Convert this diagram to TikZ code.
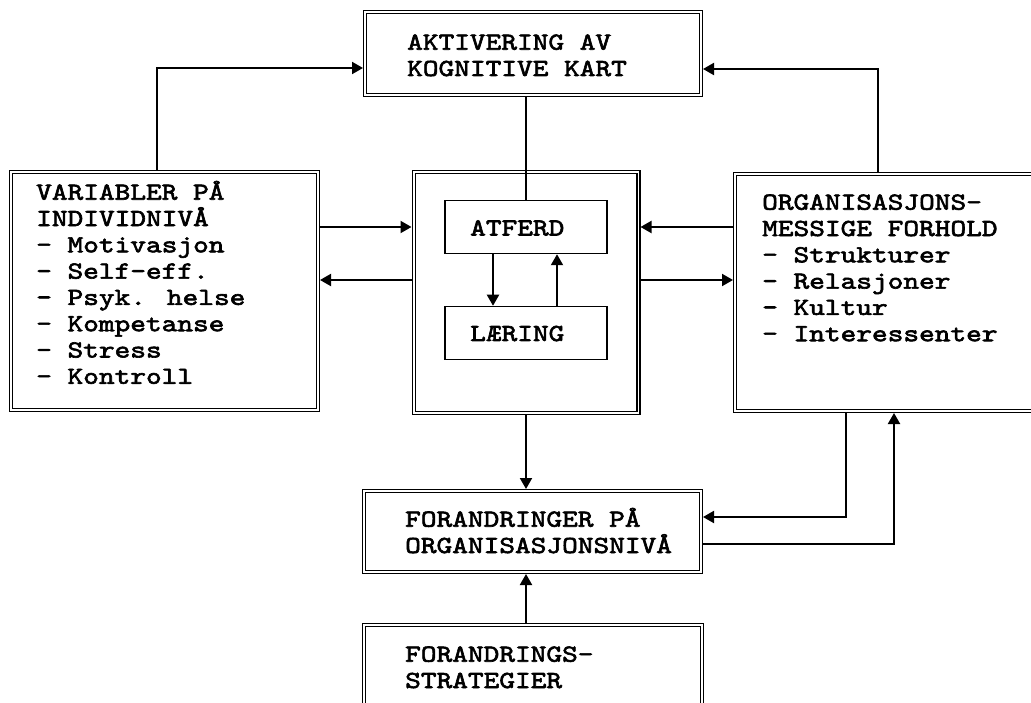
\documentclass[tikz,border=0pt]{standalone}
\usepackage{fontspec}
\newfontfamily\courfont{lmmono10-regular}[Extension=.otf, FakeStretch=1.22, FakeBold=2.5]
\usetikzlibrary{arrows.meta,calc}

\newcommand{\topstrut}{\rule{0pt}{20pt}}

\begin{document}
\begin{tikzpicture}[x=1pt, y=-1pt,
  dbox/.style={draw, double, line width=1.4pt, double distance=1.6pt,
               inner sep=0pt, outer sep=2.2pt},
  sbox/.style={draw, line width=1.5pt, inner sep=0pt, outer sep=0.75pt,
               minimum width=162pt, minimum height=53pt},
  txt/.style={font=\courfont\fontsize{24.5}{26.3}\selectfont, align=left,
              inner sep=0pt},
  ln/.style={line width=2pt},
  arr/.style={ln, -{Triangle[length=11pt, width=12pt]}}]

\useasboundingbox (0,0) rectangle (1031,703);
\clip (0,0) rectangle (1031,703);

% frames
\node[dbox, minimum width=335.6pt, minimum height=82.6pt]  (akt)     at (533,53.5)   {};
\node[dbox, minimum width=306.6pt, minimum height=237.6pt] (left)    at (164.5,291)  {};
\node[dbox, minimum width=224.6pt, minimum height=240.6pt] (mid)     at (526,292.5)  {};
\node[dbox, minimum width=322.6pt, minimum height=236.6pt] (right)   at (896.5,292.5){};
\node[dbox, minimum width=336.6pt, minimum height=80.6pt]  (forand)  at (532.5,531.5){};
\node[dbox, minimum width=337.6pt, minimum height=92.6pt]  (strat)   at (533,671.5)  {};
\node[sbox] (atferd)  at (526,227) {};
\node[sbox] (laering) at (526,333) {};

% texts
\node[txt, anchor=north west] (aktT) at (407,29.5)
  {\topstrut AKTIVERING AV\\KOGNITIVE KART};
\node[txt, anchor=north west] (leftT) at (36,179.5)
  {\topstrut VARIABLER PÅ\\INDIVIDNIVÅ\\- Motivasjon\\- Self-eff.\\- Psyk. helse\\- Kompetanse\\- Stress\\- Kontroll};
\node[txt, anchor=north west] (rightT) at (762,189.5)
  {\topstrut ORGANISASJONS-\\MESSIGE FORHOLD\\- Strukturer\\- Relasjoner\\- Kultur\\- Interessenter};
\node[txt, anchor=base west] (atferdT)  at (470,235.5) {ATFERD};
\node[txt, anchor=base west] (laeringT) at (470,341) {LÆRING};
\node[txt, anchor=north west] (forandT) at (405,506.5)
  {\topstrut FORANDRINGER PÅ\\ORGANISASJONSNIVÅ};
\node[txt, anchor=north west] (stratT) at (405,641.5)
  {\topstrut FORANDRINGS-\\STRATEGIER};

% bend points
\coordinate (lt)  at (157,68);
\coordinate (rt)  at (878,69);
\coordinate (rb1) at (846,517);
\coordinate (rb2) at (894,544);
\coordinate (gap) at ($(atferd.south)!0.5!(laering.north)$);

% connectors
\draw[arr] (left.north -| lt) -- (lt) -- (akt.west |- lt);
\draw[arr] (right.north -| rt) -- (rt) -- (akt.east |- rt);
\draw[ln]  (akt.south -| atferd.north) -- (atferd.north);

\draw[arr] (left.east |- atferd) -- (mid.west |- atferd);
\draw[arr] (mid.west |- gap) -- (left.east |- gap);
\draw[arr] (right.west |- atferd) -- (mid.east |- atferd);
\draw[arr] (mid.east |- gap) -- (right.west |- gap);

\draw[arr] ([xshift=-33pt]atferd.south) -- ([xshift=-33pt]laering.north);
\draw[arr] ([xshift=31pt]laering.north) -- ([xshift=31pt]atferd.south);

\draw[arr] (mid.south) -- (mid.south |- forand.north);
\draw[arr] (strat.north -| mid.south) -- (forand.south -| mid.south);
\draw[arr] (right.south -| rb1) -- (rb1) -- (forand.east |- rb1);
\draw[arr] (forand.east |- rb2) -- (rb2) -- (right.south -| rb2);
\end{tikzpicture}
\end{document}
